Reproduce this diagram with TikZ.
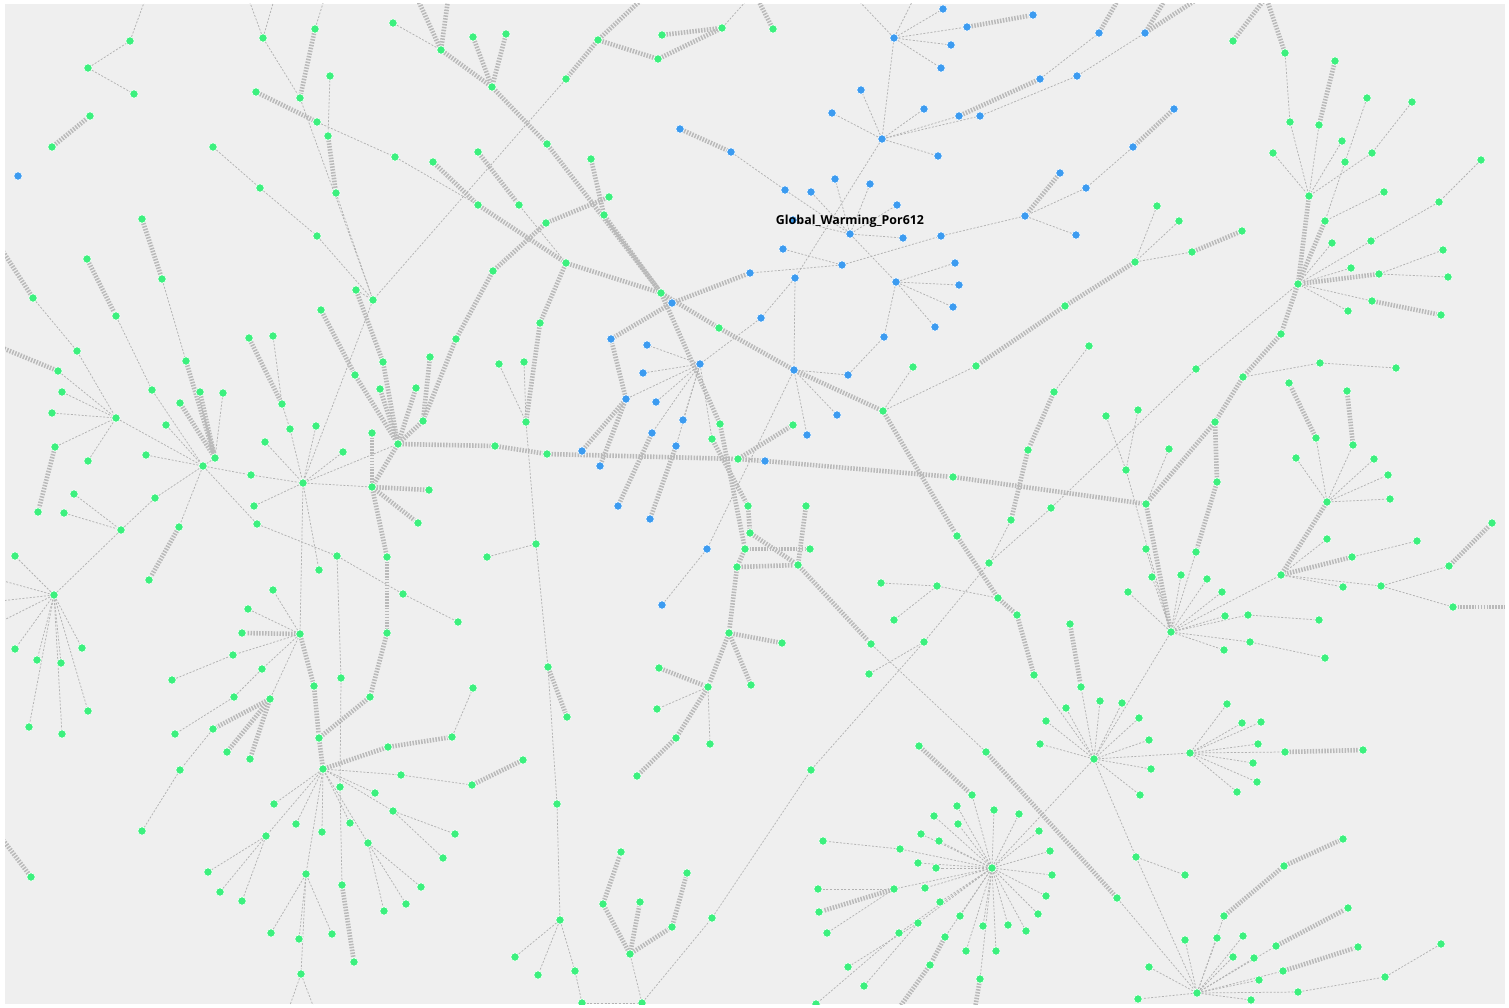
\documentclass[tikz,border=0pt]{standalone}
\usepackage{fontspec}
\setmainfont{Open Sans}
\usepackage{tikz}
\definecolor{bggray}{HTML}{EFEFEF}
\definecolor{leafgreen}{HTML}{3CF07E}
\definecolor{hubblue}{HTML}{3C9BF0}
\definecolor{linkgray}{HTML}{B2B2B2}
\definecolor{fatgray}{HTML}{B9B9B9}
\pgfdeclarelayer{back}
\pgfdeclarelayer{links}
\pgfsetlayers{back,links,main}
\tikzset{
  dot/.style={circle,inner sep=0pt,minimum size=8.4pt,draw=white,line width=0.6pt},
  greendot/.style={dot,fill=leafgreen},
  bluedot/.style={dot,fill=hubblue},
  thin link/.style={draw=linkgray,line width=0.75pt,dash pattern=on 2pt off 1.6pt},
  fat link/.style={draw=fatgray,line width=4.6pt,dash pattern=on 1.5pt off 1.4pt}
}
\begin{document}
\begin{tikzpicture}[x=1pt,y=-1pt]
  \useasboundingbox (0,0) rectangle (1509,1008);
  \begin{pgfonlayer}{back}
    \fill[white] (0,0) rectangle (1509,1008);
    \fill[bggray] (5,4) rectangle (1505,1004);
  \end{pgfonlayer}
  % free ends at the border
  \foreach \x/\y in {145/0,249/0,274/0,324/0,418/0,448/0,641/0,758/0,747/0,858/0,913/0,
    1118/0,1165/0,1196/0,1264/0,1267/0,0/247,0/347,0/580,0/601,0/622,0/836,1509/607,
    289/1008,314/1008,899/1008,975/1008}
    \coordinate (n\x-\y) at (\x,\y);
  \begin{scope}
  \clip (5,4) rectangle (1505,1004);
  % blue cluster
  \foreach \x/\y in {18/176,680/129,731/152,785/190,811/192,835/179,870/184,897/205,850/234,
    903/238,941/236,783/249,842/265,750/273,795/278,761/318,884/337,896/282,955/263,959/285,
    953/307,935/327,894/38,943/9,967/27,951/45,941/68,861/90,832/113,924/109,882/139,959/116,
    980/116,938/156,793/220,1033/15,1099/33,1145/33,1040/79,1077/76,1174/109,1133/147,1060/173,
    1086/188,1025/216,1076/235,672/303,611/339,647/345,700/364,643/373,626/399,656/402,683/420,
    652/433,676/446,582/451,600/466,618/506,650/519,765/461,794/370,848/375,837/415,807/435,
    707/549,662/605}
    \node[bluedot] (n\x-\y) at (\x,\y) {};
  % green nodes
  \foreach \x/\y in {130/41,88/68,134/94,90/116,52/147,263/38,315/29,330/76,256/92,300/98,
    317/122,328/136,336/193,213/147,260/188,317/236,356/290,373/300,321/310,395/157,433/162,
    478/205,478/152,393/23,441/50,473/37,492/87,493/271,142/219,162/279,87/259,116/316,33/298,
    273/336,249/338,
    506/34,598/40,662/35,722/28,658/59,773/29,566/79,547/144,591/159,609/197,604/215,519/205,
    546/223,566/263,540/323,661/293,719/328,
    1233/41,1285/53,1335/61,1290/122,1319/125,1367/98,1412/102,1342/141,1273/153,1345/162,
    1372/153,1481/160,1309/196,1384/192,1439/202,1325/221,1332/243,1371/241,1443/250,1351/268,
    1379/274,1448/277,1298/284,1372/301,1441/315,1348/311,1281/334,1157/206,1179/221,1135/262,
    1192/252,1242/231,1065/306,
    77/351,58/371,62/392,52/413,116/418,55/447,88/461,38/512,74/494,64/513,121/530,15/556,
    54/595,15/649,37/660,61/663,82/648,152/390,186/361,200/392,223/393,180/403,166/425,146/455,
    215/458,203/466,155/498,179/527,149/580,251/475,254/506,257/524,282/404,290/429,316/426,
    265/442,303/483,343/452,337/556,319/570,403/594,458/622,273/590,248/609,242/633,300/634,
    233/655,262/669,355/375,383/362,380/389,430/357,416/388,423/421,456/339,398/444,372/433,
    372/487,429/490,418/523,387/557,387/633,495/446,487/557,499/364,
    524/362,526/422,547/454,720/424,712/439,738/459,793/425,883/411,913/367,976/366,953/477,
    748/506,806/506,750/533,745/549,810/549,737/567,798/565,536/544,548/667,729/633,782/643,
    659/668,871/644,957/536,881/583,937/586,894/620,924/642,989/563,998/598,
    1089/346,1054/392,1028/450,1011/520,1051/508,1196/369,1243/377,1320/363,1396/368,1289/383,
    1347/391,1316/438,1353/445,1296/458,1374/459,1388/475,1390/499,1327/502,1106/416,1138/410,
    1126/470,1169/449,1215/422,1217/482,1146/504,1196/552,1146/549,1152/577,1181/575,1207/579,
    1222/592,1128/592,1225/616,1248/615,1319/620,1250/642,1224/650,1325/658,1171/632,1327/539,
    1352/557,1417/541,1281/575,1343/587,1381/586,1449/566,1492/523,1453/607,1017/615,1070/624,
    29/727,62/734,88/711,31/877,172/680,234/697,270/699,213/729,175/734,227/752,250/759,180/770,
    142/831,314/686,341/678,370/697,319/738,473/688,452/737,388/747,323/769,401/775,472/785,
    340/787,375/793,393/811,274/804,296/824,322/832,350/823,266/836,368/843,455/834,443/858,
    208/872,220/892,242/901,306/874,342/885,421/887,406/904,384/911,271/933,299/939,332/934,
    354/962,301/974,
    708/687,751/685,657/709,676/738,710/744,637/776,567/717,523/760,557/804,560/920,515/957,
    538/975,575/971,582/1003,642/1003,621/852,603/904,640/902,687/873,672/927,630/954,712/918,
    811/770,869/674,919/746,986/752,972/795,957/806,934/816,958/824,994/810,921/834,939/841,
    823/841,900/849,918/863,936/868,992/868,818/889,894/889,925/888,819/912,940/902,827/933,
    960/916,918/923,899/933,945/937,983/926,966/951,996/951,848/967,864/986,930/965,980/979,
    816/1004,
    1034/675,1081/687,1100/701,1122/703,1066/708,1139/718,1046/721,1149/740,1040/744,1094/759,
    1151/769,1140/795,1190/753,1227/704,1242/723,1261/722,1258/744,1285/752,1363/750,1253/763,
    1257/782,1237/792,1019/814,1039/831,1050/851,1052/875,1046/896,1038/914,1008/925,1026/931,
    1117/898,1136/857,1185/875,1343/839,1284/866,1224/916,1185/940,1217/938,1243/936,1233/957,
    1254/958,1276/946,1348/908,1283/971,1358/947,1259/980,1149/967,1197/993,1298/992,1385/977,
    1441/944,1138/999,1251/1000}
    \node[greendot] (n\x-\y) at (\x,\y) {};
  \end{scope}
  \begin{pgfonlayer}{links}
  \begin{scope}
  \clip (5,4) rectangle (1505,1004);
  % thick links
  \foreach \a/\b in {52-147/90-116,33-298/0-247,256-92/317-122,315-29/300-98,328-136/336-193,
    142-219/162-279,87-259/116-316,433-162/478-205,478-205/566-263,478-152/519-205,441-50/418-0,
    441-50/448-0,441-50/492-87,473-37/492-87,506-34/492-87,492-87/547-144,547-144/661-293,
    598-40/641-0,598-40/566-79,598-40/658-59,658-59/722-28,662-35/722-28,773-29/758-0,
    591-159/604-215,604-215/661-293,609-197/546-223,546-223/493-271,493-271/456-339,
    456-339/423-421,566-263/661-293,566-263/540-323,540-323/526-422,661-293/672-303,
    672-303/750-273,672-303/611-339,661-293/719-328,719-328/794-370,794-370/883-411,
    883-411/957-536,957-536/998-598,998-598/1017-615,1017-615/1034-675,661-293/720-424,
    720-424/745-549,712-439/748-506,748-506/750-533,750-533/798-565,798-565/871-644,
    806-506/798-565,745-549/810-549,737-567/798-565,745-549/737-567,737-567/729-633,
    729-633/782-643,729-633/751-685,729-633/708-687,659-668/708-687,708-687/676-738,
    676-738/637-776,548-667/567-717,523-760/472-785,738-459/793-425,582-451/626-399,
    626-399/611-339,600-466/626-399,652-433/618-506,676-446/650-519,680-129/731-152,
    967-27/1033-15,959-116/1040-79,1099-33/1118-0,1145-33/1165-0,1145-33/1196-0,
    1174-109/1133-147,1060-173/1025-216,1233-41/1264-0,1285-53/1267-0,1335-61/1319-125,
    1309-196/1298-284,1325-221/1298-284,1379-274/1298-284,1372-301/1441-315,1298-284/1281-334,
    1192-252/1242-231,1135-262/1065-306,1065-306/976-366,58-371/0-347,55-447/38-512,
    186-361/215-458,200-392/215-458,180-403/215-458,179-527/149-580,249-338/282-404,
    321-310/355-375,355-375/398-444,356-290/383-362,383-362/398-444,380-389/398-444,
    430-357/423-421,416-388/398-444,423-421/398-444,398-444/495-446,495-446/547-454,
    547-454/738-459,738-459/765-461,765-461/953-477,953-477/1146-504,372-433/372-487,
    398-444/372-487,372-487/429-490,372-487/418-523,372-487/387-557,387-557/387-633,
    387-633/370-697,300-634/242-633,300-634/314-686,314-686/319-738,319-738/323-769,
    370-697/319-738,1054-392/1028-450,1028-450/1011-520,1281-334/1243-377,1243-377/1215-422,
    1215-422/1146-504,1215-422/1217-482,1217-482/1196-552,1146-504/1171-632,1327-502/1281-575,
    1316-438/1289-383,1353-445/1347-391,1352-557/1281-575,1449-566/1492-523,1453-607/1509-607,
    1070-624/1081-687,31-877/0-836,270-699/213-729,270-699/227-752,270-699/250-759,
    323-769/388-747,388-747/452-737,342-885/354-962,603-904/621-852,630-954/603-904,
    630-954/640-902,630-954/672-927,672-927/687-873,919-746/972-795,986-752/1117-898,
    894-889/819-912,945-937/930-965,930-965/899-1008,980-979/975-1008,1285-752/1363-750,
    1224-916/1284-866,1284-866/1343-839,1276-946/1348-908,1283-971/1358-947}
    \draw[fat link] (n\a) -- (n\b);
  % thin links
  \foreach \a/\b in {130-41/145-0,88-68/130-41,88-68/134-94,263-38/249-0,263-38/274-0,
    315-29/324-0,263-38/300-98,330-76/328-136,300-98/373-300,336-193/373-300,213-147/260-188,
    260-188/317-236,317-236/373-300,356-290/373-300,317-122/395-157,395-157/478-205,
    393-23/441-50,162-279/186-361,116-316/152-390,152-390/203-466,33-298/77-351,566-79/373-300,
    722-28/747-0,519-205/566-263,731-152/785-190,785-190/850-234,850-234/811-192,850-234/835-179,
    850-234/870-184,850-234/897-205,850-234/903-238,850-234/896-282,850-234/793-220,
    882-139/795-278,783-249/842-265,842-265/941-236,941-236/1025-216,842-265/750-273,
    795-278/794-370,795-278/761-318,761-318/700-364,894-38/943-9,894-38/967-27,894-38/951-45,
    894-38/941-68,894-38/858-0,894-38/913-0,894-38/882-139,882-139/861-90,882-139/832-113,
    882-139/924-109,882-139/959-116,882-139/980-116,882-139/938-156,980-116/1077-76,
    1077-76/1145-33,1040-79/1099-33,1133-147/1086-188,1086-188/1025-216,1025-216/1076-235,
    896-282/955-263,896-282/959-285,896-282/953-307,896-282/935-327,896-282/884-337,
    848-375/884-337,1285-53/1290-122,1290-122/1309-196,1319-125/1309-196,1273-153/1309-196,
    1342-141/1309-196,1367-98/1345-162,1345-162/1325-221,1412-102/1372-153,1372-153/1309-196,
    1384-192/1325-221,1481-160/1439-202,1439-202/1371-241,1371-241/1298-284,1332-243/1298-284,
    1443-250/1379-274,1448-277/1379-274,1351-268/1298-284,1372-301/1298-284,1348-311/1298-284,
    1298-284/1196-369,1157-206/1135-262,1179-221/1135-262,1135-262/1192-252,
    58-371/116-418,77-351/116-418,62-392/116-418,52-413/116-418,55-447/116-418,88-461/116-418,
    116-418/203-466,74-494/121-530,64-513/121-530,121-530/155-498,155-498/203-466,121-530/54-595,
    54-595/15-556,54-595/0-580,54-595/0-601,54-595/0-622,54-595/15-649,54-595/37-660,
    54-595/61-663,54-595/82-648,54-595/29-727,54-595/62-734,54-595/88-711,223-393/215-458,
    215-458/203-466,166-425/203-466,146-455/203-466,203-466/179-527,203-466/251-475,
    251-475/303-483,203-466/257-524,257-524/337-556,337-556/403-594,403-594/458-622,
    273-336/282-404,282-404/290-429,290-429/303-483,316-426/303-483,265-442/303-483,
    343-452/303-483,303-483/372-487,303-483/254-506,373-300/303-483,303-483/319-570,
    303-483/300-634,303-483/398-444,300-634/273-590,300-634/248-609,300-634/233-655,
    300-634/262-669,487-557/536-544,536-544/548-667,536-544/526-422,524-362/526-422,
    499-364/526-422,700-364/647-345,700-364/643-373,700-364/656-402,700-364/683-420,
    700-364/652-433,700-364/676-446,626-399/700-364,700-364/712-439,794-370/848-375,
    794-370/837-415,794-370/807-435,794-370/707-549,707-549/662-605,883-411/913-367,
    883-411/976-366,881-583/937-586,937-586/894-620,937-586/998-598,924-642/989-563,
    989-563/1051-508,1011-520/989-563,1089-346/1054-392,1051-508/1196-369,1243-377/1320-363,
    1320-363/1396-368,1327-502/1316-438,1327-502/1353-445,1327-502/1296-458,1327-502/1374-459,
    1327-502/1388-475,1327-502/1390-499,1106-416/1126-470,1138-410/1126-470,1126-470/1171-632,
    1169-449/1146-504,1171-632/1146-549,1171-632/1152-577,1171-632/1181-575,1171-632/1207-579,
    1171-632/1222-592,1171-632/1128-592,1171-632/1225-616,1171-632/1248-615,1248-615/1319-620,
    1171-632/1250-642,1250-642/1325-658,1171-632/1224-650,1171-632/1281-575,1196-552/1171-632,
    1281-575/1327-539,1281-575/1343-587,1281-575/1381-586,1352-557/1417-541,1381-586/1449-566,
    1381-586/1453-607,1171-632/1094-759,172-680/233-655,234-697/262-669,234-697/175-734,
    270-699/300-634,213-729/180-770,180-770/142-831,337-556/341-678,341-678/340-787,
    340-787/342-885,452-737/473-688,323-769/401-775,401-775/472-785,323-769/375-793,
    323-769/393-811,393-811/455-834,393-811/443-858,323-769/274-804,323-769/296-824,
    323-769/322-832,323-769/350-823,323-769/266-836,266-836/208-872,266-836/220-892,
    266-836/242-901,323-769/368-843,368-843/384-911,368-843/406-904,368-843/421-887,
    323-769/306-874,306-874/271-933,306-874/299-939,306-874/332-934,306-874/301-974,
    301-974/289-1008,301-974/314-1008,708-687/657-709,708-687/710-744,548-667/557-804,
    557-804/560-920,560-920/515-957,560-920/538-975,560-920/575-971,575-971/582-1003,
    582-1003/642-1003,630-954/642-1003,642-1003/712-918,712-918/811-770,811-770/924-642,
    869-674/924-642,871-644/986-752,992-868/972-795,992-868/957-806,992-868/934-816,
    992-868/958-824,992-868/994-810,992-868/921-834,992-868/939-841,992-868/900-849,
    992-868/918-863,992-868/936-868,992-868/894-889,992-868/925-888,992-868/940-902,
    992-868/960-916,992-868/918-923,992-868/945-937,992-868/983-926,992-868/1008-925,
    992-868/966-951,992-868/996-951,992-868/980-979,992-868/1019-814,992-868/1039-831,
    992-868/1050-851,992-868/1052-875,992-868/1046-896,992-868/1038-914,992-868/1026-931,
    992-868/899-933,900-849/823-841,894-889/818-889,894-889/827-933,918-923/848-967,
    918-923/864-986,899-933/816-1004,1094-759/1034-675,1094-759/1081-687,1094-759/1100-701,
    1094-759/1122-703,1094-759/1066-708,1094-759/1139-718,1094-759/1046-721,1094-759/1149-740,
    1094-759/1040-744,1094-759/1151-769,1094-759/1140-795,1094-759/1190-753,1094-759/992-868,
    1094-759/1136-857,1190-753/1227-704,1190-753/1242-723,1190-753/1261-722,1190-753/1258-744,
    1190-753/1285-752,1190-753/1253-763,1190-753/1257-782,1190-753/1237-792,1136-857/1185-875,
    1136-857/1197-993,1117-898/1197-993,1197-993/1224-916,1197-993/1185-940,1197-993/1217-938,
    1197-993/1243-936,1197-993/1233-957,1197-993/1254-958,1197-993/1276-946,1197-993/1283-971,
    1197-993/1259-980,1197-993/1149-967,1197-993/1298-992,1197-993/1138-999,1197-993/1251-1000,
    1298-992/1385-977,1385-977/1441-944}
    \draw[thin link] (n\a) -- (n\b);
  \end{scope}
  \end{pgfonlayer}
  \node[font=\fontsize{12.4}{14}\selectfont\bfseries,inner sep=1pt] (title) at (850,221.5) {Global\_Warming\_Por612};
\end{tikzpicture}
\end{document}
